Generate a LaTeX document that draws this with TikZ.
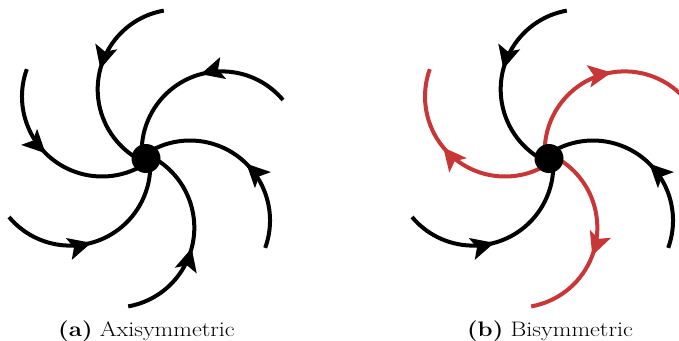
\documentclass[tikz,border=0pt]{standalone}
\usetikzlibrary{arrows.meta,decorations.markings}
\definecolor{armred}{RGB}{200,55,55}
\tikzset{
  arm/.style={line width=4pt},
  tipshape/.tip={Stealth[length=23pt,width=22pt,inset=5pt]},
  inarrow/.style={postaction={decorate},decoration={markings,
     mark=at position 0.45 with {\arrow{tipshape}}}},
  outarrow/.style={postaction={decorate},decoration={markings,
     mark=at position 0.59 with {\arrow{tipshape}}}},
  hub/.style={circle,fill=black,minimum size=29pt,inner sep=0pt},
  captxt/.style={anchor=base,font=\fontsize{21}{25}\selectfont}
}
\begin{document}
\begin{tikzpicture}[x=1pt,y=1pt]
\useasboundingbox (0,0) rectangle (679,-340);
% (a) axisymmetric
\foreach \a in {0,60,...,300}{
  \begin{scope}[shift={(146,-158.5)},rotate=\a]
    \draw[arm,inarrow] (-20:80) ++(44,-62) arc[start angle=-20,end angle=125,radius=80];
  \end{scope}
}
\node[hub] (ca) at (146,-158.5) {};
% (b) bisymmetric
\foreach \a in {0,120,240}{
  \begin{scope}[shift={(549,-158.5)},rotate=\a]
    \draw[arm,inarrow] (-20:80) ++(44,-62) arc[start angle=-20,end angle=125,radius=80];
  \end{scope}
}
\foreach \a in {60,180,300}{
  \begin{scope}[shift={(549,-158.5)},rotate=\a]
    \draw[arm,armred,outarrow] (125:80) ++(44,-62) arc[start angle=125,end angle=-20,radius=80];
  \end{scope}
}
\node[hub] (cb) at (549,-158.5) {};
% captions
\node[captxt] (la) at (146.5,-336) {\scalebox{1.15}[1]{\textbf{(a)} Axisymmetric}};
\node[captxt] (lb) at (550,-336) {\scalebox{1.15}[1]{\textbf{(b)} Bisymmetric}};
\end{tikzpicture}
\end{document}
